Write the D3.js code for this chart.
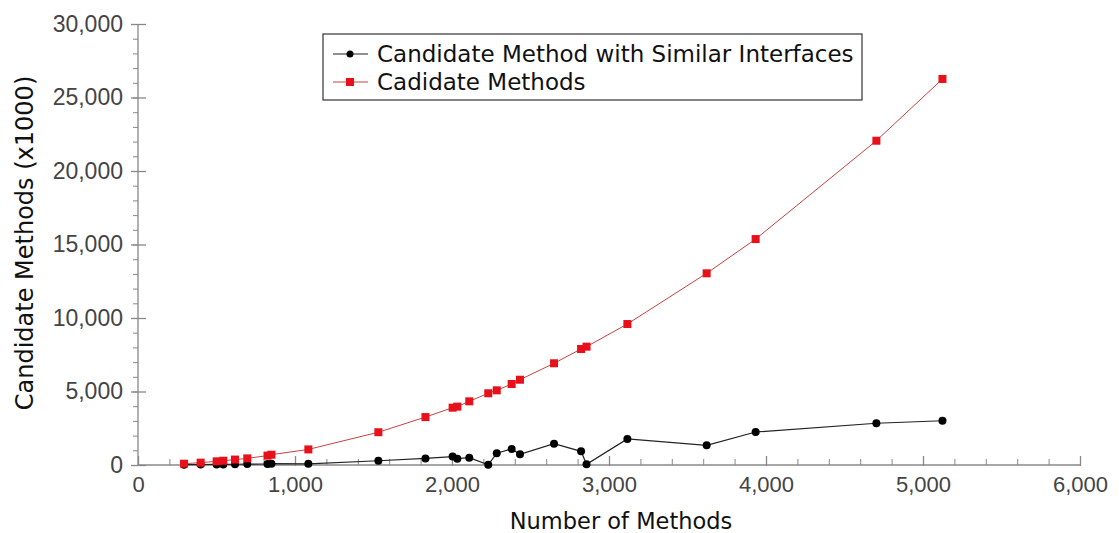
<!DOCTYPE html>
<html>
<head>
<meta charset="utf-8">
<script src="https://cdn.jsdelivr.net/npm/d3@7"></script>
<style>
body { margin:0; background:#fff; }
svg { font-family: "DejaVu Sans", sans-serif; }
.tick text { fill:#444; }
.domain, .tick line { stroke:#888; }
</style>
</head>
<body>
<svg></svg>
<script>
// number of methods (x values)
var methods = [293, 399, 501, 543, 618, 696, 825, 850, 1085, 1531, 1831, 2004, 2034, 2110,
	2231, 2285, 2380, 2433, 2650, 2822, 2857, 3117, 3622, 3934, 4703, 5124];
// Cadidate Methods (x1000)
var candidates = [90, 160, 250, 290, 370, 450, 640, 700, 1060, 2230, 3260, 3900, 3970, 4330,
	4880, 5080, 5510, 5800, 6920, 7890, 8050, 9590, 13040, 15370, 22060, 26260];
// Candidate Method with Similar Interfaces
var similar = [20, 30, 40, 40, 50, 60, 70, 90, 80, 290, 450, 570, 430, 500,
	10, 800, 1090, 730, 1450, 930, 50, 1770, 1340, 2245, 2840, 3010];
var xTicks = [0, 1000, 2000, 3000, 4000, 5000, 6000];
var yTicks = [0, 5000, 10000, 15000, 20000, 25000, 30000];
var seriesNames = ["Candidate Method with Similar Interfaces", "Cadidate Methods"];

var screen = {width:1119, height:533}
var margins = {left:138, right:39, top:24, bottom:68}
var graph = {
	width: screen.width - margins.left - margins.right,
	height: screen.height - margins.top - margins.bottom
}

var svg = d3.select("svg")
	.attr("width", screen.width)
	.attr("height", screen.height)

var xScale = d3.scaleLinear().domain([0,6000]).range([0,graph.width])
var yScale = d3.scaleLinear().domain([0,30000]).range([graph.height,0])
var fmt = d3.format(",")

//----------axes-------------
var drawAxis = function()
{
	// minor ticks first, then the labelled ones
	var xMinor = d3.axisTop(xScale).tickValues(d3.range(0,6001,200)).tickSize(6).tickFormat("")
	svg.append("g")
		.attr("transform", "translate(" + margins.left + "," + (margins.top + graph.height) + ")")
		.call(xMinor)
		.call(function(g){ g.select(".domain").remove() })

	var xAxis = d3.axisBottom(xScale).tickValues(xTicks).tickFormat(fmt).tickSize(0).tickPadding(11)
	var gx = svg.append("g")
		.attr("transform", "translate(" + margins.left + "," + (margins.top + graph.height) + ")")
		.call(xAxis)
	gx.select(".domain").attr("d", "M0,0H" + graph.width).attr("stroke-width", 1.3)
	gx.selectAll(".tick line").attr("y1", -9).attr("y2", 1).attr("stroke-width", 1.3)
	gx.selectAll(".tick text").style("font-size", "22px")

	var yMinor = d3.axisLeft(yScale).tickValues(d3.range(0,30001,1000)).tickSize(5).tickFormat("")
	svg.append("g")
		.attr("transform", "translate(" + margins.left + "," + margins.top + ")")
		.call(yMinor)
		.call(function(g){ g.select(".domain").remove() })

	var yAxis = d3.axisLeft(yScale).tickValues(yTicks).tickFormat(fmt).tickSize(7).tickPadding(8)
	var gy = svg.append("g")
		.attr("transform", "translate(" + margins.left + "," + margins.top + ")")
		.call(yAxis)
	gy.select(".domain").attr("d", "M0,0V" + graph.height).attr("stroke-width", 1.3)
	gy.selectAll(".tick line").attr("x2", -7).attr("x1", 8).attr("stroke-width", 1.3)
	gy.selectAll(".tick text").style("font-size", "23px")
}

//----------lines and markers-------------
var drawPlot = function()
{
	var target = svg.append("g")
		.attr("transform", "translate(" + margins.left + "," + margins.top + ")")

	var line = function(values)
	{
		return d3.line()
			.x(function(d,i){ return xScale(methods[i]) })
			.y(function(d){ return yScale(d) })(values)
	}

	// black series first so the red squares sit on top near zero
	target.append("path")
		.attr("d", line(similar))
		.attr("fill", "none")
		.attr("stroke", "#222")
		.attr("stroke-width", 1.2)

	target.selectAll("circle")
		.data(similar)
		.enter()
		.append("circle")
		.attr("cx", function(d,i){ return xScale(methods[i]) })
		.attr("cy", function(d){ return yScale(d) })
		.attr("r", 4)
		.attr("fill", "#000")

	target.append("path")
		.attr("d", line(candidates))
		.attr("fill", "none")
		.attr("stroke", "#c8423f")
		.attr("stroke-width", 1)

	target.selectAll("rect.red")
		.data(candidates)
		.enter()
		.append("rect")
		.attr("class", "red")
		.attr("x", function(d,i){ return xScale(methods[i]) - 4 })
		.attr("y", function(d){ return yScale(d) - 4 })
		.attr("width", 8)
		.attr("height", 8)
		.attr("fill", "#e8101a")
}

//----------legend and labels-------------
var drawLabels = function()
{
	var legend = svg.append("g").attr("transform", "translate(323,34)")
	legend.append("rect")
		.attr("width", 539)
		.attr("height", 66)
		.attr("fill", "#fff")
		.attr("stroke", "#333")
		.attr("stroke-width", 1.2)

	var rows = legend.selectAll("g.row")
		.data(seriesNames)
		.enter()
		.append("g")
		.attr("class", "row")
		.attr("transform", function(d,i){ return "translate(0," + (20 + i*28) + ")" })

	rows.append("line")
		.attr("x1", 10).attr("x2", 45)
		.attr("stroke", function(d,i){ return i == 0 ? "#222" : "#c8423f" })
		.attr("stroke-width", 1.2)
	rows.filter(function(d,i){ return i == 0 })
		.append("circle").attr("cx", 27).attr("r", 3.5).attr("fill", "#000")
	rows.filter(function(d,i){ return i == 1 })
		.append("rect").attr("x", 23).attr("y", -4).attr("width", 8).attr("height", 8).attr("fill", "#e8101a")

	rows.append("text")
		.attr("x", 54)
		.attr("dy", "0.36em")
		.style("font-size", "23px")
		.attr("fill", "#111")
		.text(function(d){ return d })

	svg.append("text")
		.attr("text-anchor", "middle")
		.attr("x", margins.left + graph.width/2 + 12)
		.attr("y", 529)
		.style("font-size", "22.5px")
		.attr("fill", "#111")
		.text("Number of Methods")

	svg.append("text")
		.attr("text-anchor", "middle")
		.attr("transform", "translate(33," + 243 + ") rotate(-90)")
		.style("font-size", "24px")
		.attr("fill", "#111")
		.text("Candidate Methods (x1000)")
}

drawAxis()
drawPlot()
drawLabels()
</script>
</body>
</html>
